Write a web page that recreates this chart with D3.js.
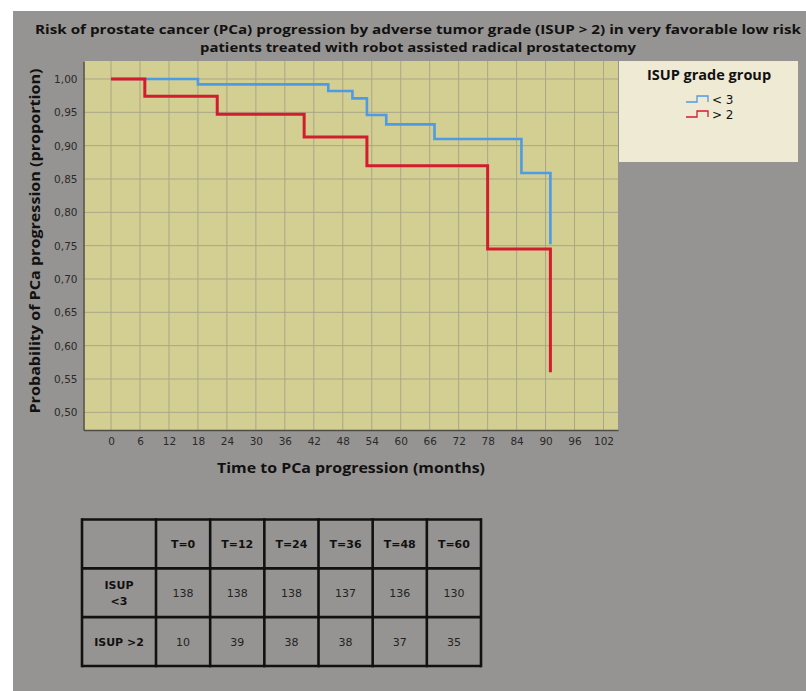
<!DOCTYPE html>
<html>
<head>
<meta charset="utf-8">
<script src="https://cdn.jsdelivr.net/npm/d3@7"></script>
<style>
  html, body { margin: 0; padding: 0; background: #ffffff; }
  svg { display: block; }
</style>
</head>
<body>
<script>
// Kaplan–Meier style progression-free curves by ISUP grade group
const titleLines = [
  "Risk of prostate cancer (PCa) progression by adverse tumor grade (ISUP > 2) in very favorable low risk",
  "patients treated with robot assisted radical prostatectomy"
];
const yTitle = "Probability of PCa progression (proportion)";
const xTitle = "Time to PCa progression (months)";
const legendTitle = "ISUP grade group";

const xTicks = [0, 6, 12, 18, 24, 30, 36, 42, 48, 54, 60, 66, 72, 78, 84, 90, 96, 102];
const yTicks = [0.50, 0.55, 0.60, 0.65, 0.70, 0.75, 0.80, 0.85, 0.90, 0.95, 1.00];

// ISUP < 3
const lowTimes = [0, 18, 45, 50, 53, 57, 67, 85, 91];
const lowSurv  = [1.000, 0.992, 0.982, 0.971, 0.946, 0.932, 0.910, 0.859, 0.752];
// ISUP > 2
const highTimes = [0, 7, 22, 40, 53, 78, 91];
const highSurv  = [1.000, 0.974, 0.947, 0.913, 0.870, 0.745, 0.560];

const seriesNames  = ["< 3", "> 2"];
const seriesColors = ["#4d9be6", "#d31c2e"];

// Numbers at risk table
const tableTimes = ["T=0", "T=12", "T=24", "T=36", "T=48", "T=60"];
const tableRowLabels = [["ISUP", "<3"], ["ISUP >2"]];
const atRiskLow  = [138, 138, 138, 137, 136, 130];
const atRiskHigh = [10, 39, 38, 38, 37, 35];

const W = 806, H = 691;
const svg = d3.select("body").append("svg").attr("width", W).attr("height", H);

// page background
svg.append("rect").attr("x", 13).attr("y", 11).attr("width", W - 13).attr("height", H - 11)
  .attr("fill", "#969492");

// title
const titleG = svg.append("g").attr("font-family", "'Open Sans', sans-serif")
  .attr("font-weight", "bold").attr("font-size", 12.5).attr("fill", "#111");
titleG.append("text").attr("x", 418).attr("y", 34).attr("text-anchor", "middle")
  .attr("textLength", 766).attr("lengthAdjust", "spacingAndGlyphs").text(titleLines[0]);
titleG.append("text").attr("x", 418).attr("y", 51.5).attr("text-anchor", "middle")
  .attr("textLength", 436).attr("lengthAdjust", "spacingAndGlyphs").text(titleLines[1]);

// plot area
const plot = { left: 83.5, right: 618, top: 61, bottom: 430 };
const x = d3.scaleLinear().domain([-5.7, 105]).range([plot.left, plot.right]);
const y = d3.scaleLinear().domain([0.4735, 1.027]).range([plot.bottom, plot.top]);

svg.append("rect").attr("x", plot.left).attr("y", plot.top)
  .attr("width", plot.right - plot.left).attr("height", plot.bottom - plot.top)
  .attr("fill", "#d3ce92");

// grid
const gridColor = "#a9a788";
svg.append("g").selectAll("line").data(xTicks).join("line")
  .attr("x1", d => x(d)).attr("x2", d => x(d))
  .attr("y1", plot.top).attr("y2", plot.bottom)
  .attr("stroke", gridColor).attr("stroke-width", 1);
svg.append("g").selectAll("line").data(yTicks).join("line")
  .attr("x1", plot.left).attr("x2", plot.right)
  .attr("y1", d => y(d)).attr("y2", d => y(d))
  .attr("stroke", gridColor).attr("stroke-width", 1);

// axes (labels only, no tick marks)
const xAxis = svg.append("g").attr("transform", `translate(0,${plot.bottom})`)
  .call(d3.axisBottom(x).tickValues(xTicks).tickSize(0).tickPadding(8).tickFormat(d3.format("d")));
const yAxis = svg.append("g").attr("transform", `translate(${plot.left},0)`)
  .call(d3.axisLeft(y).tickValues(yTicks).tickSize(0).tickPadding(6)
    .tickFormat(d => d3.format(".2f")(d).replace(".", ",")));
[xAxis, yAxis].forEach(g => {
  g.select(".domain").attr("stroke", "#4e4d45").attr("stroke-width", 1.5);
  g.selectAll("text").attr("font-family", "'DejaVu Sans', sans-serif")
    .attr("font-size", 10.5).attr("fill", "#2a2a2a");
});

// axis titles
svg.append("text").attr("x", 351).attr("y", 473).attr("text-anchor", "middle")
  .attr("font-family", "'Open Sans', sans-serif").attr("font-weight", "bold")
  .attr("font-size", 15).attr("fill", "#111")
  .attr("textLength", 268).attr("lengthAdjust", "spacingAndGlyphs").text(xTitle);
svg.append("text").attr("transform", "translate(40,241) rotate(-90)").attr("text-anchor", "middle")
  .attr("font-family", "'Open Sans', sans-serif").attr("font-weight", "bold")
  .attr("font-size", 15).attr("fill", "#111")
  .attr("textLength", 345).attr("lengthAdjust", "spacingAndGlyphs").text(yTitle);

// step curves
function stepPath(times, surv) {
  let p = `M${x(times[0])},${y(surv[0])}`;
  for (let i = 1; i < times.length; i++) {
    p += `H${x(times[i])}V${y(surv[i])}`;
  }
  return p;
}
const curves = [
  { t: lowTimes, s: lowSurv, color: seriesColors[0], w: 2.6 },
  { t: highTimes, s: highSurv, color: seriesColors[1], w: 3 }
];
svg.append("g").selectAll("path").data(curves).join("path")
  .attr("d", d => stepPath(d.t, d.s))
  .attr("fill", "none").attr("stroke", d => d.color).attr("stroke-width", d => d.w)
  .attr("stroke-linejoin", "miter").attr("stroke-linecap", "butt");

// legend
const lg = svg.append("g");
lg.append("rect").attr("x", 619).attr("y", 61).attr("width", 179).attr("height", 101)
  .attr("fill", "#eeead4");
lg.append("text").attr("x", 709).attr("y", 80).attr("text-anchor", "middle")
  .attr("font-family", "'Open Sans', sans-serif").attr("font-weight", "bold")
  .attr("font-size", 14.5).attr("fill", "#111").text(legendTitle);
seriesNames.forEach((name, i) => {
  const yy = 100 + i * 15;
  lg.append("path")
    .attr("d", `M686,${yy + 2}H697V${yy - 4}H708V${yy + 2}`)
    .attr("fill", "none").attr("stroke", seriesColors[i]).attr("stroke-width", 1.3);
  lg.append("text").attr("x", 712).attr("y", yy + 4)
    .attr("font-family", "'DejaVu Sans', sans-serif").attr("font-size", 12)
    .attr("fill", "#111").text(name);
});

// numbers-at-risk table
const tbl = { left: 82, labelRight: 156, right: 481, top: 519.5, bottom: 666 };
const colX = d3.scaleBand().domain(tableTimes).range([tbl.labelRight, tbl.right]);
const rowY = d3.scaleBand().domain(["head", "low", "high"]).range([tbl.top, tbl.bottom]);
const tg = svg.append("g");
const colEdges = [tbl.left, ...tableTimes.map(t => colX(t)), tbl.right];
const rowEdges = [tbl.top, rowY("low"), rowY("high"), tbl.bottom];
tg.selectAll("line.v").data(colEdges).join("line").attr("class", "v")
  .attr("x1", d => d).attr("x2", d => d).attr("y1", tbl.top - 1.3).attr("y2", tbl.bottom + 1.3)
  .attr("stroke", "#111").attr("stroke-width", 2.6);
tg.selectAll("line.h").data(rowEdges).join("line").attr("class", "h")
  .attr("x1", tbl.left).attr("x2", tbl.right).attr("y1", d => d).attr("y2", d => d)
  .attr("stroke", "#111").attr("stroke-width", 2.6);

const cellFont = "'DejaVu Sans', sans-serif";
const cx = t => colX(t) + colX.bandwidth() / 2;
const cy = r => rowY(r) + rowY.bandwidth() / 2;
tg.selectAll("text.head").data(tableTimes).join("text").attr("class", "head")
  .attr("x", cx).attr("y", cy("head") + 4).attr("text-anchor", "middle")
  .attr("font-family", cellFont).attr("font-weight", "bold").attr("font-size", 11)
  .attr("fill", "#111").text(d => d);
[[atRiskLow, "low"], [atRiskHigh, "high"]].forEach(([vals, r]) => {
  tg.selectAll(`text.v-${r}`).data(vals).join("text").attr("class", `v-${r}`)
    .attr("x", (d, i) => cx(tableTimes[i])).attr("y", cy(r) + 4).attr("text-anchor", "middle")
    .attr("font-family", cellFont).attr("font-size", 11).attr("fill", "#222").text(d => d);
});
const labelCx = (tbl.left + tbl.labelRight) / 2;
tableRowLabels[0].forEach((s, i) => {
  tg.append("text").attr("x", labelCx).attr("y", cy("low") - 4 + i * 16).attr("text-anchor", "middle")
    .attr("font-family", cellFont).attr("font-weight", "bold").attr("font-size", 11)
    .attr("fill", "#111").text(s);
});
tg.append("text").attr("x", labelCx).attr("y", cy("high") + 4).attr("text-anchor", "middle")
  .attr("font-family", cellFont).attr("font-weight", "bold").attr("font-size", 11)
  .attr("fill", "#111").text(tableRowLabels[1][0]);
</script>
</body>
</html>
